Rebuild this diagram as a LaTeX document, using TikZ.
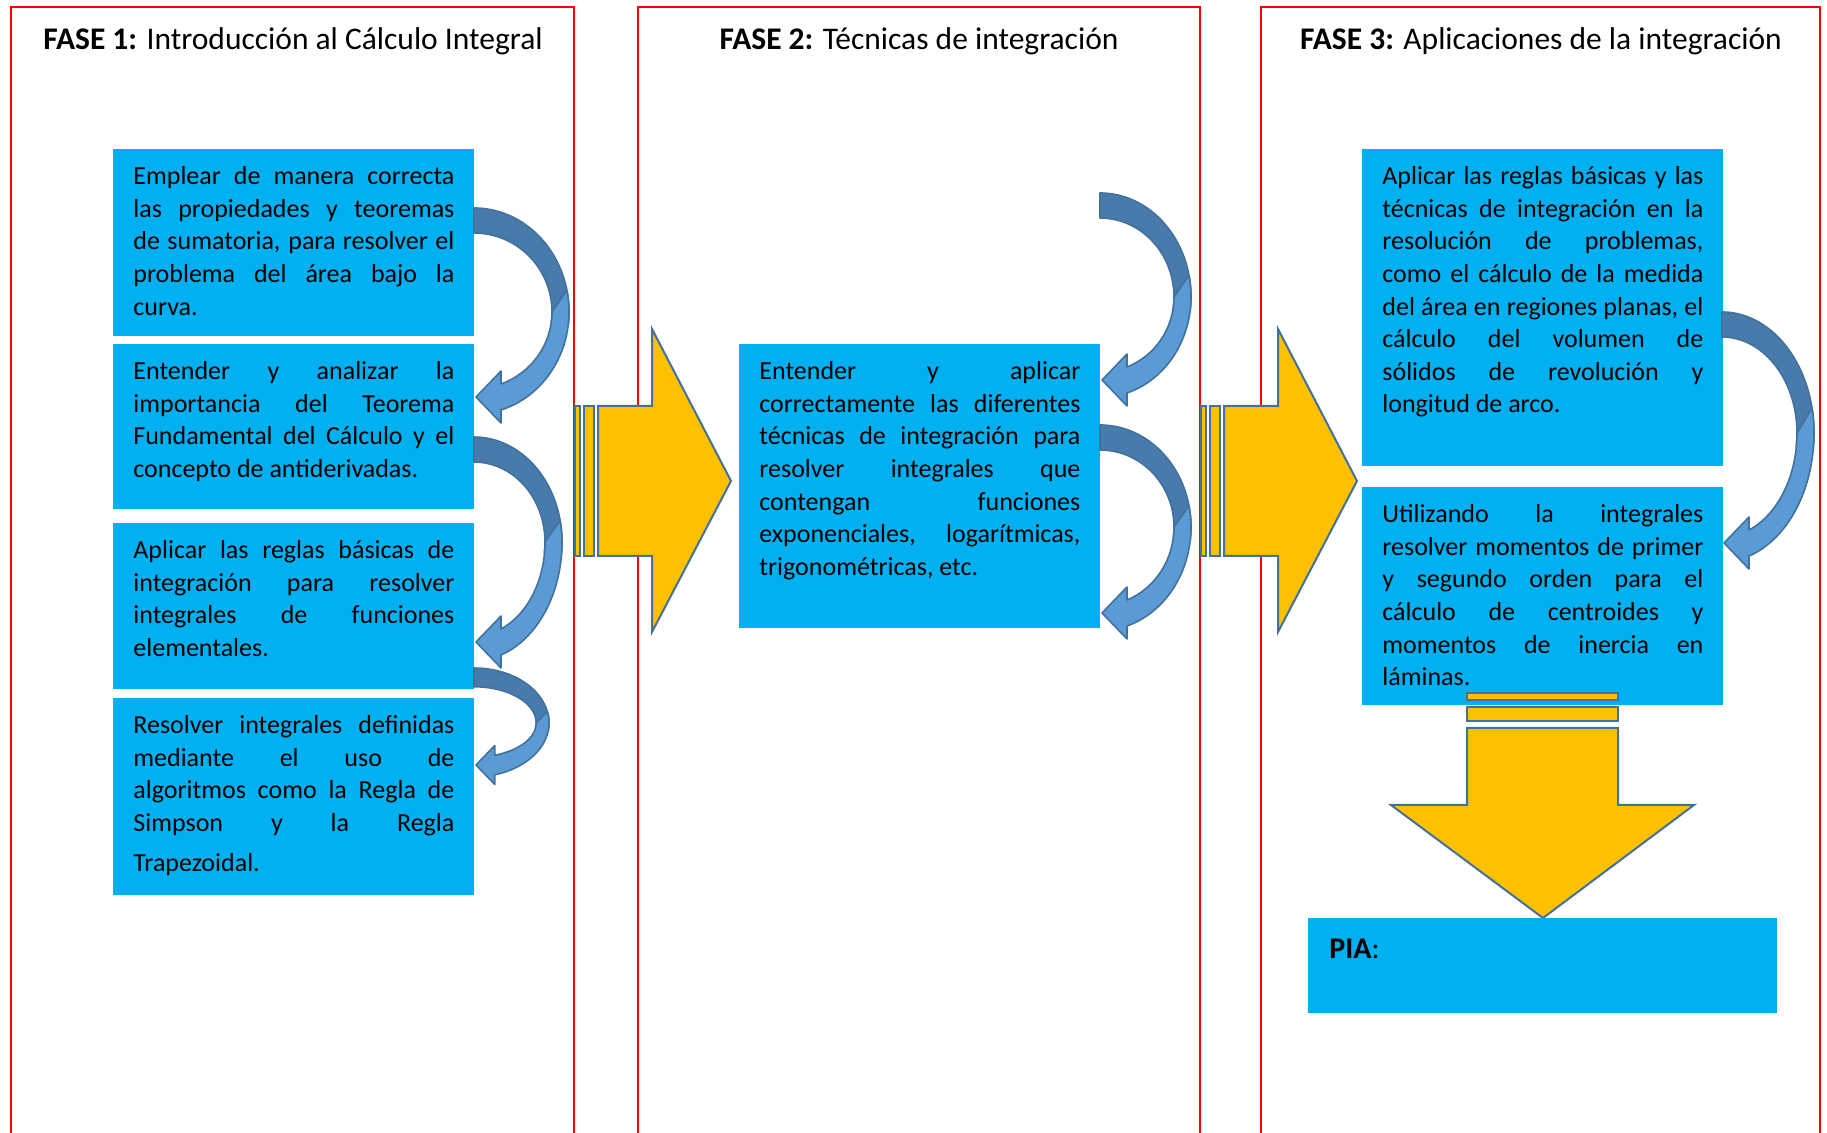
\documentclass[tikz,border=0pt]{standalone}
\usepackage{fontspec}
\setmainfont{Carlito}
\hyphenpenalty=10000
\tolerance=10000
\hbadness=10000

\definecolor{boxblue}{HTML}{00B0F0}
\definecolor{arrowgold}{HTML}{FFC000}
\definecolor{edgeblue}{HTML}{41719C}
\definecolor{frontblue}{HTML}{5B9BD5}
\definecolor{backblue}{HTML}{487AAB}

\tikzset{
  phaseframe/.style={draw=red, line width=1pt},
  phasetitle/.style={anchor=base, inner sep=0pt, font=\fontsize{15.75}{19}\selectfont},
  panel/.style={fill=boxblue, anchor=north west, inner xsep=10pt, inner ysep=0pt,
    text width=160.5pt, align=justify, font=\fontsize{13}{16.3}\selectfont},
  fatarrow/.style={fill=arrowgold, draw=edgeblue, line width=1pt},
  bendfront/.style={fill=frontblue, draw=edgeblue, line width=0.8pt, line join=round},
  bendback/.style={fill=backblue, draw=edgeblue, line width=0.8pt, line join=round}
}

% text of a panel, pinned to the top
\newcommand{\paneltext}[2]{\parbox[c][#1][t]{\linewidth}{\vspace*{6.2pt}\strut#2}}

% curved arrow: x0, top, middle, tip, radius, size
\newcommand{\bendarrow}[6]{%
  \pgfmathsetmacro{\bndW}{25*#6}%
  \pgfmathsetmacro{\bndT}{17*#6}%
  \pgfmathsetmacro{\bndH}{26*#6}%
  \pgfmathsetmacro{\bndA}{#3-#2}%
  \pgfmathsetmacro{\bndAi}{#3-#2-\bndW}%
  \pgfmathsetmacro{\bndRi}{#5-\bndT}%
  \pgfmathsetmacro{\bndXb}{#1+2+25*#6}%
  \pgfmathsetmacro{\bndXt}{#1+2}%
  \pgfmathsetmacro{\bndTo}{acos((\bndXb-#1)/#5)}%
  \pgfmathsetmacro{\bndBo}{(#4+13*#6-#3)/sin(\bndTo)}%
  \pgfmathsetmacro{\bndTi}{acos((\bndXb-#1)/\bndRi)}%
  \pgfmathsetmacro{\bndBi}{(#4-13*#6-#3)/sin(\bndTi)}%
  \filldraw[bendback] (#1,#2) arc[start angle=-90, end angle=8, x radius=#5, y radius=\bndA]
    -- ({#1+\bndRi*cos(8)},{#3+\bndAi*sin(8)})
    arc[start angle=8, end angle=-90, x radius=\bndRi, y radius=\bndAi] -- cycle;
  \filldraw[bendfront] ({#1+#5*cos(12)},{#3-\bndA*sin(12)})
    arc[start angle=-12, end angle=0, x radius=#5, y radius=\bndA]
    arc[start angle=0, end angle=\bndTo, x radius=#5, y radius=\bndBo]
    -- (\bndXb,#4+\bndH) -- (\bndXt,#4) -- (\bndXb,#4-\bndH) -- (\bndXb,#4-13*#6)
    arc[start angle=\bndTi, end angle=0, x radius=\bndRi, y radius=\bndBi] -- cycle;
}

\begin{document}
\begin{tikzpicture}[x=0.5pt,y=-0.5pt]
\useasboundingbox (0,0) rectangle (1827,1133);

% phases
\draw[phaseframe] (11,1140) -- (11,7) -- (574,7) -- (574,1140);
\draw[phaseframe] (638,1140) -- (638,7) -- (1200,7) -- (1200,1140);
\draw[phaseframe] (1261,1140) -- (1261,7) -- (1820,7) -- (1820,1140);

\node[phasetitle] (fase1) at (293,50) {\textbf{FASE 1:} Introducción al Cálculo Integral};
\node[phasetitle] (fase2) at (919,50) {\textbf{FASE 2:} Técnicas de integración};
\node[phasetitle] (fase3) at (1541,50) {\textbf{FASE 3:} Aplicaciones de la integración};

% fase 1
\node[panel] (intro1) at (113,149) {\paneltext{93.5pt}{Emplear de manera correcta\linebreak
  las propiedades y teoremas\linebreak de sumatoria, para resolver el\linebreak
  problema del área bajo la\linebreak curva.}};
\node[panel] (intro2) at (113,344) {\paneltext{82.5pt}{Entender y analizar la\linebreak
  importancia del Teorema\linebreak Fundamental del Cálculo y el\linebreak
  concepto de antiderivadas.}};
\node[panel] (intro3) at (113,523) {\paneltext{83pt}{Aplicar las reglas básicas de\linebreak
  integración para resolver\linebreak integrales de funciones\linebreak elementales.}};
\node[panel] (intro4) at (113,698) {\paneltext{98.5pt}{Resolver integrales definidas\linebreak
  mediante el uso de\linebreak algoritmos como la Regla de\linebreak
  Simpson y la Regla\vadjust{\vskip3.5pt}\linebreak Trapezoidal.}};

\bendarrow{474}{208}{312}{397}{95}{1}
\bendarrow{474}{437}{542}{642}{88}{1}
\bendarrow{474}{668}{723}{765}{75}{0.75}

% fase 2
\node[panel] (tech1) at (739,344) {\paneltext{142pt}{Entender y aplicar\linebreak
  correctamente las diferentes\linebreak técnicas de integración para\linebreak
  resolver integrales que\linebreak contengan funciones\linebreak
  exponenciales, logarítmicas,\linebreak trigonométricas, etc.}};

\bendarrow{1100}{193}{297}{380}{91}{1}
\bendarrow{1100}{425}{527}{613}{91}{1}

% fase 3
\node[panel] (app1) at (1362,149) {\paneltext{158.5pt}{Aplicar las reglas básicas y las\linebreak
  técnicas de integración en la\linebreak resolución de problemas,\linebreak
  como el cálculo de la medida\linebreak del área en regiones planas, el\linebreak
  cálculo del volumen de\linebreak sólidos de revolución y\linebreak longitud de arco.}};
\node[panel] (app2) at (1362,487) {\paneltext{109pt}{Utilizando la integrales\linebreak
  resolver momentos de primer\linebreak y segundo orden para el\linebreak
  cálculo de centroides y\linebreak momentos de inercia en\linebreak láminas.}};

\bendarrow{1722}{312}{433}{543}{92}{1}

% striped arrows between phases
\foreach \dx in {0,626} {
  \filldraw[fatarrow] (575+\dx,406) rectangle (580+\dx,556);
  \filldraw[fatarrow] (584+\dx,406) rectangle (594+\dx,556);
  \filldraw[fatarrow] (598+\dx,406) -- (652+\dx,406) -- (652+\dx,329) -- (731+\dx,481)
    -- (652+\dx,632) -- (652+\dx,556) -- (598+\dx,556) -- cycle;
}

\filldraw[fatarrow] (1467,693) rectangle (1618,700);
\filldraw[fatarrow] (1467,707) rectangle (1618,721);
\filldraw[fatarrow] (1467,728) -- (1467,805) -- (1391,805) -- (1543,918) -- (1694,805)
  -- (1618,805) -- (1618,728) -- cycle;

\node[panel, text width=213.5pt, inner xsep=10.5pt, font=\fontsize{15}{18.3}\selectfont]
  (pia) at (1308,918) {\parbox[c][47.5pt][t]{\linewidth}{\vspace*{7.2pt}\strut\textbf{PIA}:}};

\end{tikzpicture}
\end{document}
